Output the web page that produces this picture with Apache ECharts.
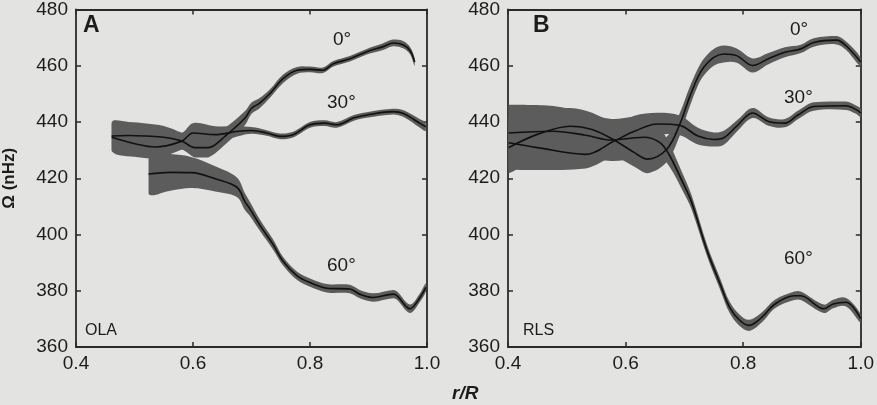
<!DOCTYPE html>
<html>
<head>
<meta charset="utf-8">
<script src="https://cdn.jsdelivr.net/npm/echarts@6/dist/echarts.min.js"></script>
<style>
  html, body { margin: 0; padding: 0; background: #e3e3e1; }
  #chart { width: 877px; height: 405px; }
</style>
</head>
<body>
<div id="chart"></div>
<script>
// panel A (OLA)
var aR0 = [0.461, 0.49, 0.52, 0.55, 0.581, 0.603, 0.626, 0.655, 0.689, 0.70, 0.714, 0.732, 0.754, 0.778, 0.80, 0.822, 0.84, 0.868, 0.897, 0.925, 0.942, 0.959, 0.971, 0.979];
var a0   = [435.0, 435.2, 435.0, 434.6, 433.2, 430.9, 430.9, 435.0, 441.4, 444.9, 446.7, 450.2, 455.4, 458.4, 458.7, 458.4, 460.7, 462.5, 465.0, 466.8, 468.1, 467.5, 465.4, 461.3];
var a0e  = [5, 4.8, 4.5, 4, 3, 3.5, 3.5, 3, 2.5, 2, 1.8, 1.5, 1.5, 1.2, 1, 1, 1, 1, 1, 1.2, 1.2, 1.3, 1.3, 1.3];

var aR30 = [0.461, 0.506, 0.535, 0.581, 0.60, 0.638, 0.677, 0.70, 0.726, 0.749, 0.771, 0.80, 0.825, 0.846, 0.874, 0.897, 0.942, 0.960, 0.988, 0.998];
var a30  = [434.6, 432.0, 431.1, 433.2, 436.1, 435.5, 436.7, 437.0, 436.1, 434.9, 435.5, 439.0, 439.6, 439.0, 441.4, 442.5, 443.7, 443.0, 439.5, 438.3];
var a30e = [5, 4.5, 4, 3, 3.5, 3, 1.8, 1.2, 1, 1, 1, 1, 1, 1, 1, 1, 1, 1.2, 1.5, 1.5];

var aR60 = [0.524, 0.561, 0.598, 0.638, 0.675, 0.689, 0.697, 0.714, 0.737, 0.754, 0.778, 0.80, 0.829, 0.868, 0.885, 0.908, 0.942, 0.949, 0.971, 0.988, 0.998];
var a60  = [421.5, 422.1, 422.0, 419.8, 416.8, 411.6, 409.2, 403.4, 396.4, 390.5, 385.3, 382.9, 380.9, 380.6, 378.8, 377.6, 378.8, 378.2, 373.6, 377.6, 381.2];
var a60e = [7, 6.5, 5.5, 4.5, 3.5, 3, 2.5, 2, 1.8, 1.5, 1.5, 1.5, 1.5, 1.5, 1.5, 1.5, 1.5, 1.5, 1.5, 1.5, 1.5];

// panel B (RLS)
var bR0 = [0.401, 0.45, 0.506, 0.543, 0.582, 0.615, 0.637, 0.670, 0.692, 0.708, 0.723, 0.733, 0.750, 0.767, 0.789, 0.816, 0.843, 0.871, 0.898, 0.920, 0.959, 0.975, 1.0];
var b0  = [430.9, 435.6, 438.5, 437.3, 433.4, 429.1, 426.8, 430.3, 439.1, 448.4, 456.0, 459.5, 463.0, 464.2, 463.6, 460.1, 462.5, 464.8, 466.0, 468.3, 469.1, 467.1, 461.3];
var b0e = [9, 8, 6.5, 6, 5.5, 5, 5, 4.5, 4, 3.5, 3, 3, 3, 3, 2.5, 2.5, 2, 1.8, 1.5, 1.5, 1.5, 1.5, 1.5];

var bR30 = [0.401, 0.45, 0.532, 0.582, 0.615, 0.654, 0.692, 0.723, 0.750, 0.767, 0.789, 0.816, 0.843, 0.871, 0.893, 0.920, 0.975, 0.992, 1.0];
var b30  = [432.6, 430.9, 428.5, 433.4, 436.7, 439.3, 438.8, 435.0, 433.8, 434.4, 438.5, 443.2, 440.2, 439.6, 442.5, 445.5, 445.8, 444.4, 443.2];
var b30e = [9, 8, 5, 5, 5.5, 4, 3.5, 3, 2.5, 2.5, 2, 1.8, 1.5, 1.5, 1.5, 1.5, 1.5, 1.5, 1.5];

var bR60 = [0.401, 0.477, 0.532, 0.576, 0.615, 0.631, 0.659, 0.675, 0.697, 0.712, 0.739, 0.761, 0.777, 0.794, 0.810, 0.832, 0.854, 0.887, 0.898, 0.937, 0.953, 0.975, 1.0];
var b60  = [436.1, 436.7, 435.3, 433.6, 434.4, 434.6, 432.6, 428.0, 418.6, 411.6, 394.0, 382.3, 374.1, 369.5, 367.7, 370.6, 375.3, 378.2, 378.2, 373.6, 375.3, 375.9, 370.1];
var b60e = [10, 9, 8, 7.5, 7.5, 7, 5, 4, 3, 2.5, 2, 2, 2, 2, 2, 1.8, 1.5, 1.5, 1.5, 1.5, 1.5, 1.5, 1.5];

var ink = '#1c1c1c';
var bandColor = '#5c5c5c';
var font = '"Liberation Sans", Arial, Helvetica, sans-serif';

function pairs(xs, ys) {
  return xs.map(function (x, i) { return [x, ys[i]]; });
}

function band(xs, ys, es, idx) {
  return {
    type: 'custom', xAxisIndex: idx, yAxisIndex: idx, silent: true, z: 1,
    data: [0],
    renderItem: function (params, api) {
      var pts = [];
      for (var i = 0; i < xs.length; i++) pts.push(api.coord([xs[i], ys[i] + es[i]]));
      for (var j = xs.length - 1; j >= 0; j--) pts.push(api.coord([xs[j], ys[j] - es[j]]));
      // keep the smoothed outline inside the points' box
      var lo = [Infinity, Infinity], hi = [-Infinity, -Infinity];
      pts.forEach(function (p) {
        lo[0] = Math.min(lo[0], p[0]); lo[1] = Math.min(lo[1], p[1]);
        hi[0] = Math.max(hi[0], p[0]); hi[1] = Math.max(hi[1], p[1]);
      });
      return {
        type: 'polygon',
        shape: { points: pts, smooth: 0.35, smoothConstraint: [lo, hi] },
        style: { fill: bandColor }
      };
    }
  };
}

function curve(xs, ys, idx) {
  return {
    type: 'line', xAxisIndex: idx, yAxisIndex: idx, z: 3,
    data: pairs(xs, ys), showSymbol: false, smooth: 0.35, silent: true,
    lineStyle: { color: '#111', width: 1.6 }
  };
}

function xAx(gi, top) {
  return {
    type: 'value', gridIndex: gi, min: 0.4, max: 1.0, interval: 0.2,
    position: top ? 'top' : 'bottom',
    splitLine: { show: false },
    axisLine: { show: true, onZero: false, lineStyle: { color: '#2a2a2a', width: 1.8 } },
    axisTick: { show: true, inside: true, length: 5, lineStyle: { color: '#2a2a2a', width: 1.5 } },
    axisLabel: {
      show: !top, color: ink, fontSize: 19, fontFamily: font, margin: 7,
      formatter: function (v) { return v.toFixed(1); }
    }
  };
}

function yAx(gi, right, name) {
  return {
    type: 'value', gridIndex: gi, min: 360, max: 480, interval: 20,
    position: right ? 'right' : 'left',
    name: name || '', nameLocation: 'middle', nameGap: 58, nameRotate: 90,
    nameTextStyle: { color: ink, fontSize: 17, fontWeight: 'bold', fontFamily: font },
    splitLine: { show: false },
    axisLine: { show: true, onZero: false, lineStyle: { color: '#2a2a2a', width: 1.8 } },
    axisTick: { show: true, inside: true, length: 5, lineStyle: { color: '#2a2a2a', width: 1.5 } },
    axisLabel: { show: !right, color: ink, fontSize: 19, fontFamily: font, margin: 8 }
  };
}

function txt(x, y, s, size, weight, style) {
  return {
    type: 'text', left: x, top: y, silent: true,
    style: { text: s, fill: ink, fontSize: size, fontWeight: weight || 'normal',
             fontStyle: style || 'normal', fontFamily: font }
  };
}

var chart = echarts.init(document.getElementById('chart'), null, { renderer: 'canvas' });
chart.setOption({
  backgroundColor: '#e3e3e1',
  animation: false,
  grid: [
    { left: 76, top: 5, width: 351, height: 342 },
    { left: 508, top: 5, width: 364, height: 342 }
  ],
  xAxis: [xAx(0, false), xAx(0, true), xAx(1, false), xAx(1, true)],
  yAxis: [yAx(0, false, 'Ω (nHz)'), yAx(0, true), yAx(1, false), yAx(1, true)],
  series: [
    band(aR0, a0, a0e, 0), band(aR30, a30, a30e, 0), band(aR60, a60, a60e, 0),
    band(bR0, b0, b0e, 2), band(bR30, b30, b30e, 2), band(bR60, b60, b60e, 2),
    curve(aR0, a0, 0), curve(aR30, a30, 0), curve(aR60, a60, 0),
    curve(bR0, b0, 2), curve(bR30, b30, 2), curve(bR60, b60, 2)
  ],
  graphic: [
    txt(83, 14, 'A', 23, 'bold'),
    txt(533, 14, 'B', 23, 'bold'),
    txt(85, 323, 'OLA', 16),
    txt(523, 323, 'RLS', 16),
    txt(333, 30, '0°', 19),
    txt(327, 93, '30°', 19),
    txt(327, 256, '60°', 19),
    txt(790, 20, '0°', 19),
    txt(784, 88, '30°', 19),
    txt(784, 249, '60°', 19),
    txt(452, 384, 'r/R', 19, 'bold', 'italic')
  ]
});
</script>
</body>
</html>
